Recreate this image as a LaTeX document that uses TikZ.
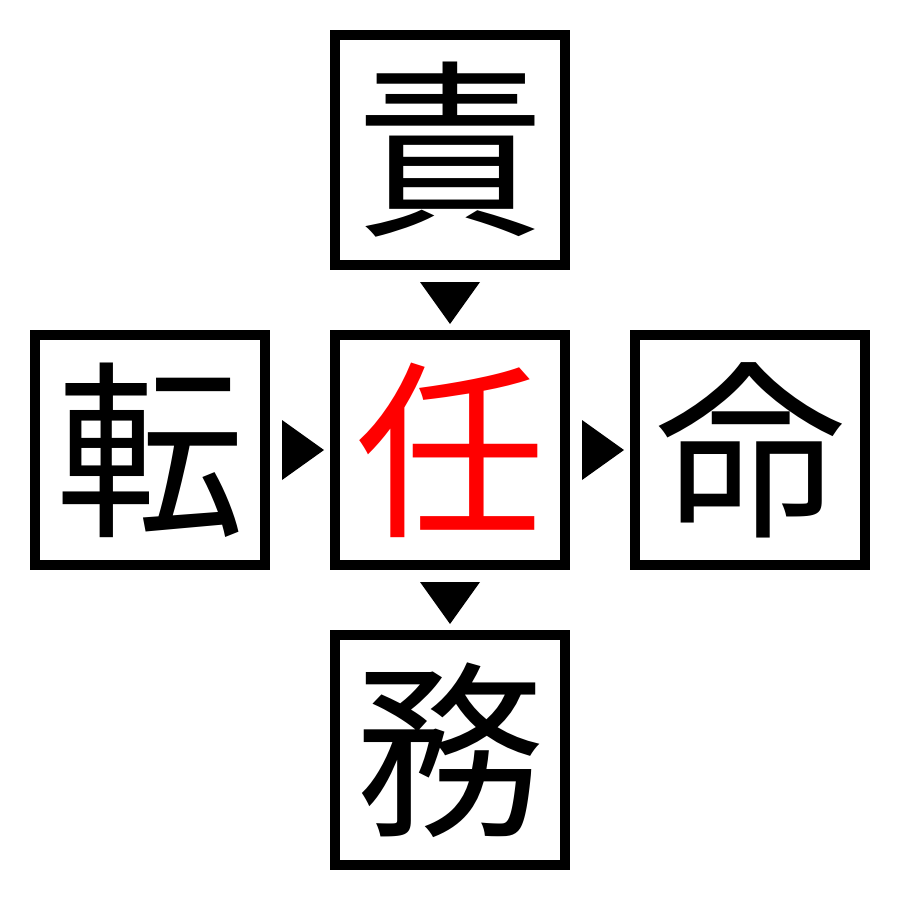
\documentclass[tikz,border=0pt]{standalone}
\usepackage{fontspec}
\usetikzlibrary{calc}
\newfontfamily\cjk{Noto Sans CJK JP}
\begin{document}
\begin{tikzpicture}[x=0.01cm,y=-0.01cm,
  kanji/.style={draw=black,line width=10*0.01cm,minimum size=230*0.01cm,inner sep=0pt,
    font=\cjk\fontsize{54}{54}\selectfont},
  tri/.style={fill=black}]
\useasboundingbox (0,0) rectangle (900,900);
\node[kanji] (t) at (450,150) {責};
\node[kanji,text=red] (c) at (450,450) {任};
\node[kanji] (l) at (150,450) {転};
\node[kanji] (r) at (750,450) {命};
\node[kanji] (b) at (450,750) {務};
% arrowheads between boxes
\fill[tri] ($(t.south)+(-30,12)$) -- ($(t.south)+(30,12)$) -- ($(c.north)+(0,-6)$) -- cycle;
\fill[tri] ($(c.south)+(-30,12)$) -- ($(c.south)+(30,12)$) -- ($(b.north)+(0,-6)$) -- cycle;
\fill[tri] ($(l.east)+(12,-30)$) -- ($(l.east)+(12,30)$) -- ($(c.west)+(-6,0)$) -- cycle;
\fill[tri] ($(c.east)+(12,-30)$) -- ($(c.east)+(12,30)$) -- ($(r.west)+(-6,0)$) -- cycle;
\end{tikzpicture}
\end{document}
